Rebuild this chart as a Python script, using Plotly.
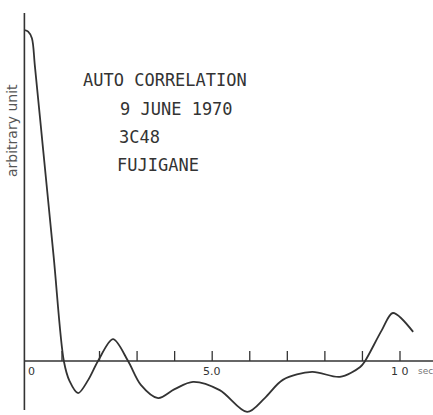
import plotly.graph_objects as go

# Auto-correlation curve (time lag in sec, arbitrary units; peak normalised to 1)
lag_sec = [0, 0.1, 0.2, 0.28, 0.5, 0.78, 1.05, 1.2, 1.43, 1.7, 1.96, 2.36, 2.76, 3.1,
           3.56, 4.0, 4.49, 5.2, 5.93, 6.4, 6.88, 7.66, 8.4, 8.94, 9.07, 9.52, 9.81, 10.35]
corr = [1.0, 0.995, 0.975, 0.89, 0.637, 0.314, 0.0, -0.06, -0.097, -0.057, 0.0, 0.066,
        0.0, -0.072, -0.112, -0.085, -0.063, -0.088, -0.154, -0.112, -0.057, -0.033,
        -0.048, -0.018, 0.0, 0.094, 0.145, 0.088]

tick_vals = [1, 2, 3, 4, 5, 6, 7, 8, 9, 10]
tick_label_vals = [0.2, 5, 10]
tick_label_text = ["0", "5.0", "1 0"]
title_lines = ["AUTO CORRELATION", "9 JUNE 1970", "3C48", "FUJIGANE"]

INK = "#333333"
W, H = 433, 415
px_per_sec = 37.56
x0_px = 24.4
axis_px = 361.0
px_per_unit = 331.0

x_range = [(0 - x0_px) / px_per_sec, (W - x0_px) / px_per_sec]
y_range = [(axis_px - H) / px_per_unit, axis_px / px_per_unit]

def vy(py):
    return (axis_px - py) / px_per_unit

def tx(px):
    return (px - x0_px) / px_per_sec

fig = go.Figure()
fig.add_trace(go.Scatter(x=lag_sec, y=corr, mode="lines",
                         line=dict(color=INK, width=1.8, shape="spline", smoothing=0.9),
                         hoverinfo="skip"))

shapes = [
    dict(type="line", xref="x", yref="y", x0=0, x1=x_range[1], y0=0, y1=0,
         line=dict(color=INK, width=1.5)),
    dict(type="line", xref="x", yref="y", x0=0, x1=0, y0=vy(410), y1=vy(13),
         line=dict(color=INK, width=1.6)),
]
tick_len = 10 / px_per_unit
for t in tick_vals:
    shapes.append(dict(type="line", xref="x", yref="y", x0=t, x1=t, y0=0, y1=tick_len,
                       line=dict(color=INK, width=1.3)))

annotations = []
for t, s in zip(tick_label_vals, tick_label_text):
    annotations.append(dict(x=t, y=vy(371), xref="x", yref="y", text=s, showarrow=False,
                            font=dict(family="DejaVu Sans", size=11, color=INK),
                            xanchor="center", yanchor="middle"))
annotations.append(dict(x=tx(416), y=vy(371), xref="x", yref="y", text="sec", showarrow=False,
                        font=dict(family="DejaVu Sans", size=9, color="#777"),
                        xanchor="left", yanchor="middle"))
annotations.append(dict(x=tx(12), y=vy(131), xref="x", yref="y", text="arbitrary unit",
                        showarrow=False, textangle=-90,
                        font=dict(family="DejaVu Sans", size=14, color="#555"),
                        xanchor="center", yanchor="middle"))
title_pos = [(81, 80), (118, 109), (117, 137), (115, 165)]
for (px, py), s in zip(title_pos, title_lines):
    annotations.append(dict(x=tx(px), y=vy(py), xref="x", yref="y", text=s, showarrow=False,
                            font=dict(family="DejaVu Sans Mono", size=17, color=INK),
                            xanchor="left", yanchor="middle"))

fig.update_layout(
    width=W, height=H,
    margin=dict(l=0, r=0, t=0, b=0),
    paper_bgcolor="white", plot_bgcolor="white",
    showlegend=False,
    xaxis=dict(range=x_range, visible=False, fixedrange=True),
    yaxis=dict(range=y_range, visible=False, fixedrange=True),
    shapes=shapes, annotations=annotations,
)

fig.write_html("out.html", config={"displayModeBar": False})
